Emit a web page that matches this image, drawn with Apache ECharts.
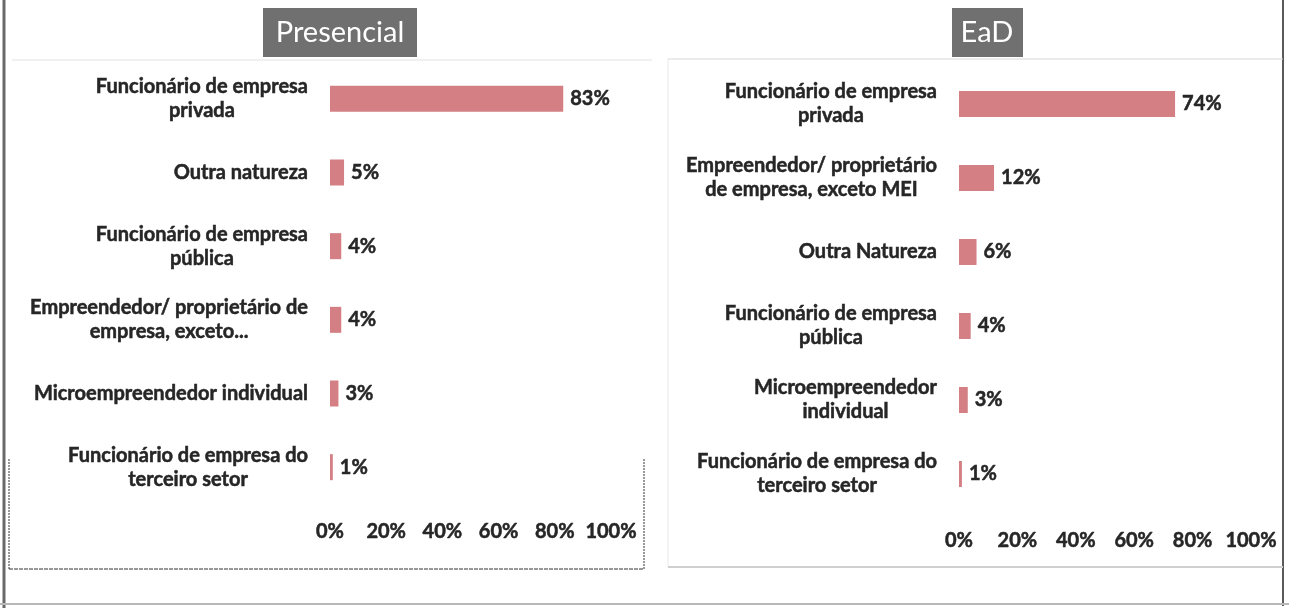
<!DOCTYPE html>
<html>
<head>
<meta charset="utf-8">
<script src="https://cdn.jsdelivr.net/npm/echarts@6/dist/echarts.min.js"></script>
<style>
html,body{margin:0;padding:0;background:#fff;}
#chart{width:1289px;height:608px;}
</style>
</head>
<body>
<div id="chart"></div>
<script>
const titlePresencial = 'Presencial';
const titleEaD = 'EaD';
const categoriesPresencial = [
  'Funcionário de empresa\nprivada',
  'Outra natureza',
  'Funcionário de empresa\npública',
  'Empreendedor/ proprietário de\nempresa, exceto...',
  'Microempreendedor individual',
  'Funcionário de empresa do\nterceiro setor'
];
const valuesPresencial = [83, 5, 4, 4, 3, 1];
const categoriesEaD = [
  'Funcionário de empresa\nprivada',
  'Empreendedor/ proprietário\nde empresa, exceto MEI',
  'Outra Natureza',
  'Funcionário de empresa\npública',
  'Microempreendedor\nindividual',
  'Funcionário de empresa do\nterceiro setor'
];
const valuesEaD = [74, 12, 6, 4, 3, 1];
const tickValues = [0, 20, 40, 60, 80, 100];

const FONT = 'Lato';
const TXT = '#262626';
const BAR = '#d37f84';
const FS = 20;
const STROKE = { textBorderColor: TXT, textBorderWidth: 0.5 };

function catFormatter(v) {
  return v.split('\n').map(l => '{c|' + l + '}').join('\n');
}
const richCat = { c: Object.assign({ align: 'center', fontFamily: FONT, fontWeight: 'bold', fontSize: FS, color: TXT, lineHeight: 24 }, STROKE) };

function xAxisCfg(gi, margin) {
  return {
    gridIndex: gi, type: 'value', min: tickValues[0], max: tickValues[tickValues.length - 1],
    interval: tickValues[1] - tickValues[0],
    axisLine: { show: false }, axisTick: { show: false }, splitLine: { show: false },
    axisLabel: Object.assign({ formatter: '{value}%', fontFamily: FONT, fontWeight: 'bold', fontSize: FS, color: TXT, margin: margin }, STROKE)
  };
}
function yAxisCfg(gi, cats) {
  return {
    gridIndex: gi, type: 'category', data: cats, inverse: true,
    axisLine: { show: false }, axisTick: { show: false }, splitLine: { show: false },
    axisLabel: { margin: 22, formatter: catFormatter, rich: richCat, align: 'right' }
  };
}
function seriesCfg(gi, vals) {
  return {
    type: 'bar', xAxisIndex: gi, yAxisIndex: gi, data: vals, barWidth: 26,
    itemStyle: { color: BAR },
    label: Object.assign({ show: true, position: 'right', distance: 7, formatter: '{c}%',
      fontFamily: FONT, fontWeight: 'bold', fontSize: FS, color: TXT }, STROKE),
    silent: true
  };
}

const chart = echarts.init(document.getElementById('chart'), null, { renderer: 'canvas' });
chart.setOption({
  animation: false,
  backgroundColor: '#fff',
  grid: [
    { left: 330, top: 62, width: 281, height: 442 },
    { left: 959, top: 67, width: 292, height: 444 }
  ],
  xAxis: [xAxisCfg(0, 18), xAxisCfg(1, 20)],
  yAxis: [yAxisCfg(0, categoriesPresencial), yAxisCfg(1, categoriesEaD)],
  series: [seriesCfg(0, valuesPresencial), seriesCfg(1, valuesEaD)],
  graphic: [
    // outer frame
    { type: 'line', shape: { x1: 4, y1: 0, x2: 4, y2: 608 }, style: { stroke: '#6a6a6a', lineWidth: 3 } },
    { type: 'line', shape: { x1: 1283, y1: 0, x2: 1283, y2: 606 }, style: { stroke: '#5a5a5a', lineWidth: 2 } },
    { type: 'line', shape: { x1: 0, y1: 604, x2: 1289, y2: 604 }, style: { stroke: '#b8b8b8', lineWidth: 2 } },
    // left panel
    { type: 'line', shape: { x1: 12, y1: 60, x2: 652, y2: 60 }, style: { stroke: '#e2e2e2', lineWidth: 1 } },
    { type: 'line', shape: { x1: 9, y1: 459, x2: 9, y2: 569 }, style: { stroke: '#333', lineWidth: 1, lineDash: [2, 1] } },
    { type: 'line', shape: { x1: 644, y1: 459, x2: 644, y2: 569 }, style: { stroke: '#333', lineWidth: 1, lineDash: [2, 1] } },
    { type: 'line', shape: { x1: 9, y1: 569, x2: 644, y2: 569 }, style: { stroke: '#333', lineWidth: 1, lineDash: [4, 1] } },
    // right panel
    { type: 'line', shape: { x1: 668, y1: 59, x2: 1283, y2: 59 }, style: { stroke: '#d8d8d8', lineWidth: 1 } },
    { type: 'line', shape: { x1: 668, y1: 59, x2: 668, y2: 567 }, style: { stroke: '#e8e8e8', lineWidth: 1 } },
    { type: 'line', shape: { x1: 668, y1: 567, x2: 1283, y2: 567 }, style: { stroke: '#d0d0d0', lineWidth: 2 } },
    // title boxes
    { type: 'rect', shape: { x: 263, y: 8, width: 154, height: 49 }, style: { fill: '#707070' } },
    { type: 'text', x: 340, y: 33, style: { text: titlePresencial, fill: '#fff', font: '29px Lato', align: 'center', verticalAlign: 'middle' } },
    { type: 'rect', shape: { x: 952, y: 8, width: 71, height: 49 }, style: { fill: '#707070' } },
    { type: 'text', x: 987, y: 33, style: { text: titleEaD, fill: '#fff', font: '29px Lato', align: 'center', verticalAlign: 'middle' } }
  ]
});
</script>
</body>
</html>
